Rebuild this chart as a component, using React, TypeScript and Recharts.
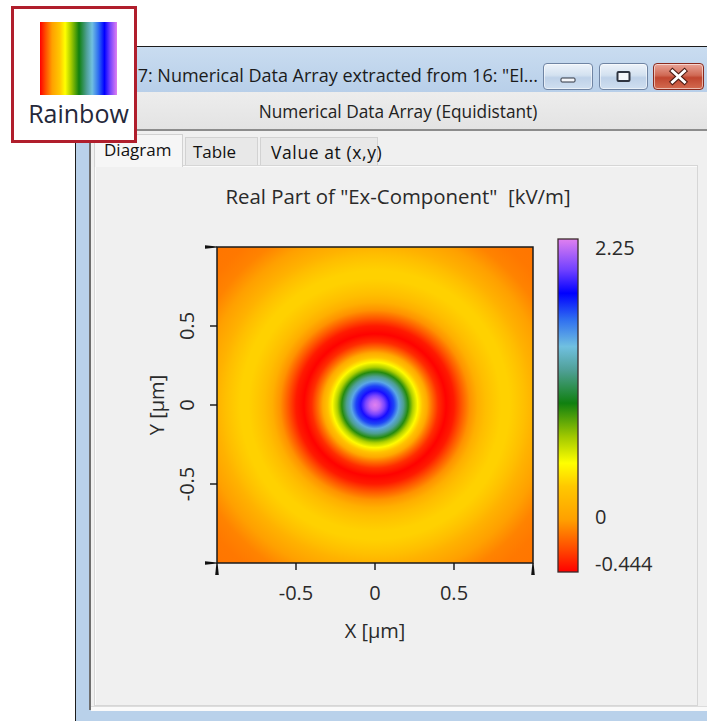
import React from "react";
import { ComposedChart, XAxis, YAxis, ReferenceArea, Bar } from "recharts";

// Re(Ex) in kV/m sampled along the radius (µm) from the beam axis
const RADIUS = [0, 0.03, 0.06, 0.09, 0.12, 0.15, 0.18, 0.21, 0.24, 0.27, 0.3, 0.33, 0.36, 0.4, 0.45, 0.5, 0.55, 0.6, 0.65, 0.7, 0.75, 0.8, 0.85, 0.9, 0.95, 1.0, 1.1, 1.2, 1.3, 1.42];
const FIELD = [2.25, 2.18, 2.02, 1.85, 1.68, 1.45, 1.18, 0.88, 0.62, 0.42, 0.22, 0.04, -0.15, -0.33, -0.44, -0.38, -0.22, -0.06, 0.08, 0.18, 0.25, 0.28, 0.28, 0.25, 0.18, 0.1, -0.02, -0.1, -0.13, -0.14];
const BEAM_CENTER = [0, 0];

const X_DOMAIN: [number, number] = [-1, 1];
const Y_DOMAIN: [number, number] = [-1, 1];
const AXIS_TICKS = [-1, -0.5, 0, 0.5, 1];

// colour scale
const FIELD_MIN = -0.444;
const FIELD_MAX = 2.25;
const COLORBAR_TICKS = [2.25, 0, -0.444];
const RAINBOW_POS = [0, 0.067, 0.157, 0.257, 0.327, 0.407, 0.507, 0.607, 0.677, 0.757, 0.837, 0.907, 1];
const RAINBOW_COLORS = ["#ff0000", "#ff4800", "#ffa000", "#ffc800", "#ffff00", "#a0c800", "#108010", "#50a098", "#70c0e0", "#3070f0", "#0000ff", "#7040ff", "#e080f0"];

const SCALE_BAR = [{ name: "Re(Ex)", span: [FIELD_MIN, FIELD_MAX] }];

const UI_FONT = '"Open Sans", "Noto Sans", sans-serif';
const TEXT = "#2a2a2a";
const AXIS_FONT = 20;

function hexRgb(h: string) {
  const n = parseInt(h.slice(1), 16);
  return [(n >> 16) & 255, (n >> 8) & 255, n & 255];
}

function rainbow(v: number) {
  const t = Math.min(1, Math.max(0, (v - FIELD_MIN) / (FIELD_MAX - FIELD_MIN)));
  let i = 0;
  while (i < RAINBOW_POS.length - 2 && t > RAINBOW_POS[i + 1]) i++;
  const f = (t - RAINBOW_POS[i]) / (RAINBOW_POS[i + 1] - RAINBOW_POS[i]);
  const a = hexRgb(RAINBOW_COLORS[i]);
  const b = hexRgb(RAINBOW_COLORS[i + 1]);
  const c = a.map((ch, k) => Math.round(ch + (b[k] - ch) * f));
  return `rgb(${c[0]},${c[1]},${c[2]})`;
}

function FieldMap(props: any) {
  const { x, y, width, height } = props;
  const pxX = width / (X_DOMAIN[1] - X_DOMAIN[0]);
  const pxY = height / (Y_DOMAIN[1] - Y_DOMAIN[0]);
  const cx = x + (BEAM_CENTER[0] - X_DOMAIN[0]) * pxX;
  const cy = y + (Y_DOMAIN[1] - BEAM_CENTER[1]) * pxY;
  const rMax = RADIUS[RADIUS.length - 1];
  return (
    <g>
      <defs>
        <radialGradient id="exField" gradientUnits="userSpaceOnUse" cx={cx} cy={cy} r={rMax * pxX}>
          {RADIUS.map((r, i) => (
            <stop key={i} offset={r / rMax} stopColor={rainbow(FIELD[i])} />
          ))}
        </radialGradient>
      </defs>
      <rect x={x} y={y} width={width} height={height} fill="url(#exField)" stroke="#1a1a1a" strokeWidth={1.5} />
    </g>
  );
}

const fmt = (v: number) => String(v);

function XTick(props: any) {
  const { x, y, payload } = props;
  const edge = Math.abs(payload.value) === 1;
  return (
    <g>
      {edge ? (
        <polygon points={`${x - 0.6},${y} ${x + 0.6},${y} ${x + 1.8},${y + 12} ${x - 1.8},${y + 12}`} fill="#111" />
      ) : (
        <line x1={x} x2={x} y1={y} y2={y + 7} stroke="#111" strokeWidth={1.4} />
      )}
      {!edge && (
        <text x={x} y={y + 30} dy="0.36em" textAnchor="middle" fontSize={AXIS_FONT} fill={TEXT} fontFamily={UI_FONT}>
          {fmt(payload.value)}
        </text>
      )}
    </g>
  );
}

function YTick(props: any) {
  const { x, y, payload } = props;
  const edge = Math.abs(payload.value) === 1;
  const tx = x - 30;
  return (
    <g>
      {edge ? (
        <polygon points={`${x},${y - 0.6} ${x},${y + 0.6} ${x - 12},${y + 1.8} ${x - 12},${y - 1.8}`} fill="#111" />
      ) : (
        <line x1={x} x2={x - 7} y1={y} y2={y} stroke="#111" strokeWidth={1.4} />
      )}
      {!edge && (
        <text x={tx} y={y} dy="0.36em" textAnchor="middle" fontSize={AXIS_FONT} fill={TEXT} fontFamily={UI_FONT} transform={`rotate(-90, ${tx}, ${y})`}>
          {fmt(payload.value)}
        </text>
      )}
    </g>
  );
}

function ScaleTick(props: any) {
  const { x, y, payload } = props;
  const shift = payload.value === FIELD_MAX ? 9 : payload.value === FIELD_MIN ? -8 : 0;
  return (
    <text x={x + 17} y={y + shift} dy="0.36em" textAnchor="start" fontSize={AXIS_FONT} fill={TEXT} fontFamily={UI_FONT}>
      {fmt(payload.value)}
    </text>
  );
}

function ScaleBar(props: any) {
  const { x, y, width, height } = props;
  const top = Math.min(y, y + height);
  return (
    <g>
      <defs>
        <linearGradient id="rainbowScale" x1="0" y1="1" x2="0" y2="0">
          {RAINBOW_POS.map((p, i) => (
            <stop key={i} offset={p} stopColor={RAINBOW_COLORS[i]} />
          ))}
        </linearGradient>
      </defs>
      <rect x={x} y={top} width={width} height={Math.abs(height)} fill="url(#rainbowScale)" stroke="#3a2a2a" strokeWidth={1.3} />
    </g>
  );
}

function CaptionButton({ left, width, kind }: { left: number; width: number; kind: string }) {
  const close = kind === "close";
  const mid = (width - 2) / 2;
  return (
    <div
      style={{
        position: "absolute", left, top: 63, width, height: 27, boxSizing: "border-box",
        borderRadius: 4, border: close ? "1px solid #8a2a1e" : "1px solid #6f84a3",
        background: close
          ? "linear-gradient(#e9a396, #d06a55 45%, #c04630 55%, #d36b50)"
          : "linear-gradient(#edf3fa, #d3e1f0 45%, #bed1e8 55%, #cfdff0)",
        boxShadow: "inset 0 0 0 1px rgba(255,255,255,0.55)",
      }}
    >
      <svg width={width - 2} height={25} style={{ position: "absolute", left: 0, top: 0 }}>
        {kind === "min" && <rect x={mid - 7} y={14} width={14} height={4} rx={1} fill="#f4f6fa" stroke="#2e3440" strokeWidth={1} />}
        {kind === "max" && <rect x={mid - 6} y={8} width={12} height={9} rx={1} fill="#f4f6fa" stroke="#2e3440" strokeWidth={2} />}
        {close && (
          <g stroke="#4a1a12" strokeWidth={5} strokeLinecap="square">
            <line x1={mid - 6} y1={7} x2={mid + 6} y2={18} />
            <line x1={mid + 6} y1={7} x2={mid - 6} y2={18} />
          </g>
        )}
        {close && (
          <g stroke="#ffffff" strokeWidth={3} strokeLinecap="square">
            <line x1={mid - 6} y1={7} x2={mid + 6} y2={18} />
            <line x1={mid + 6} y1={7} x2={mid - 6} y2={18} />
          </g>
        )}
      </svg>
    </div>
  );
}

const abs = (s: React.CSSProperties): React.CSSProperties => ({ position: "absolute", ...s });

export default function App() {
  const rainbowCss = `linear-gradient(to right, ${RAINBOW_COLORS.map((c, i) => `${c} ${RAINBOW_POS[i] * 100}%`).join(", ")})`;
  return (
    <div style={{ position: "fixed", left: 0, top: 0, width: 707, height: 721, background: "#ffffff", overflow: "hidden", fontFamily: UI_FONT, color: "#1e1e1e" }}>
      {/* window frame and caption */}
      <div style={abs({ left: 75, top: 46, width: 700, height: 700, background: "#b9d1ea", borderLeft: "1px solid #1c1c1c", borderTop: "1px solid #1c1c1c" })} />
      <div style={abs({ left: 76, top: 47, width: 640, height: 45, background: "linear-gradient(#c9dcf0, #b8cfe9)" })} />
      <div style={abs({ left: 76, top: 62, width: 462, lineHeight: "26px", fontSize: 18, textAlign: "right", whiteSpace: "nowrap", overflow: "hidden", color: "#1b1b1b" })}>
        17: Numerical Data Array extracted from 16: "El...
      </div>
      <CaptionButton left={543} width={50} kind="min" />
      <CaptionButton left={599} width={49} kind="max" />
      <CaptionButton left={653} width={51} kind="close" />

      {/* header band */}
      <div style={abs({ left: 90, top: 92, width: 617, height: 37, background: "linear-gradient(#ededed, #e3e3e3)", borderBottom: "2px solid #8c8c8c" })} />
      <div style={abs({ left: 90, top: 99, width: 616, textAlign: "center", fontSize: 17.3, lineHeight: "26px", color: "#222" })}>
        Numerical Data Array (Equidistant)
      </div>

      {/* panel */}
      <div style={abs({ left: 89, top: 131, width: 2, height: 579, background: "#6e6e6e" })} />
      <div style={abs({ left: 91, top: 131, width: 616, height: 579, background: "#f0f0f0" })} />
      <div style={abs({ left: 94, top: 165, width: 604, height: 541, boxSizing: "border-box", border: "1px solid #d6d6d6", boxShadow: "inset 1px 1px 0 #fbfbfb", background: "#f0f0f0" })} />

      {/* tabs */}
      <div style={abs({ left: 185, top: 137, width: 73, height: 28, boxSizing: "border-box", background: "#e8e8e8", border: "1px solid #d2d2d2", borderBottom: "none" })} />
      <div style={abs({ left: 260, top: 137, width: 118, height: 28, boxSizing: "border-box", background: "#e8e8e8", border: "1px solid #d2d2d2", borderBottom: "none" })} />
      <div style={abs({ left: 94, top: 134, width: 89, height: 33, boxSizing: "border-box", background: "#f6f6f6", border: "1px solid #d2d2d2", borderBottom: "none" })} />
      <div style={abs({ left: 104, top: 138, fontSize: 17, lineHeight: "24px", color: "#111" })}>Diagram</div>
      <div style={abs({ left: 193, top: 140, fontSize: 17, lineHeight: "24px", color: "#111" })}>Table</div>
      <div style={abs({ left: 271, top: 140, fontSize: 17.5, lineHeight: "24px", letterSpacing: 0.6, color: "#111" })}>Value at (x,y)</div>

      {/* bottom frame */}
      <div style={abs({ left: 91, top: 706, width: 616, height: 4, background: "#fafafa", borderTop: "1px solid #dcdcdc" })} />

      {/* diagram title */}
      <div style={abs({ left: 92, top: 182, width: 612, textAlign: "center", fontSize: 20.4, lineHeight: "28px", whiteSpace: "pre", color: TEXT })}>
        {'Real Part of "Ex-Component"  [kV/m]'}
      </div>

      {/* field map */}
      <div style={abs({ left: 92, top: 166 })}>
        <ComposedChart width={607} height={540} margin={{ top: 81, right: 166, bottom: 83, left: 60 }}>
          <XAxis
            type="number"
            dataKey="x"
            domain={X_DOMAIN}
            ticks={AXIS_TICKS}
            interval={0}
            allowDataOverflow
            axisLine={false}
            tickLine={false}
            tickSize={0}
            tickMargin={0}
            height={60}
            tick={(p: any) => <XTick {...p} />}
            label={(p: any) => {
              const vb = p.viewBox;
              return (
                <text x={vb.x + vb.width / 2} y={vb.y + 68} dy="0.36em" textAnchor="middle" fontSize={AXIS_FONT} fill={TEXT} fontFamily={UI_FONT}>
                  X [µm]
                </text>
              );
            }}
          />
          <YAxis
            type="number"
            dataKey="y"
            domain={Y_DOMAIN}
            ticks={AXIS_TICKS}
            interval={0}
            allowDataOverflow
            axisLine={false}
            tickLine={false}
            tickSize={0}
            tickMargin={0}
            width={65}
            tick={(p: any) => <YTick {...p} />}
            label={(p: any) => {
              const vb = p.viewBox;
              const lx = vb.x + vb.width - 60;
              const ly = vb.y + vb.height / 2;
              return (
                <text x={lx} y={ly} dy="0.36em" textAnchor="middle" fontSize={AXIS_FONT} fill={TEXT} fontFamily={UI_FONT} transform={`rotate(-90, ${lx}, ${ly})`}>
                  Y [µm]
                </text>
              );
            }}
          />
          <ReferenceArea
            x1={X_DOMAIN[0]}
            x2={X_DOMAIN[1]}
            y1={Y_DOMAIN[0]}
            y2={Y_DOMAIN[1]}
            ifOverflow="visible"
            shape={(p: any) => <FieldMap {...p} />}
          />
        </ComposedChart>
      </div>

      {/* colour scale */}
      <div style={abs({ left: 548, top: 220 })}>
        <ComposedChart width={150} height={370} data={SCALE_BAR} margin={{ top: 19, right: 0, bottom: 18, left: 10 }} barCategoryGap={0}>
          <XAxis dataKey="name" hide />
          <YAxis
            orientation="right"
            type="number"
            domain={[FIELD_MIN, FIELD_MAX]}
            ticks={COLORBAR_TICKS}
            interval={0}
            width={120}
            axisLine={false}
            tickLine={false}
            tickSize={0}
            tickMargin={0}
            tick={(p: any) => <ScaleTick {...p} />}
          />
          <Bar dataKey="span" isAnimationActive={false} shape={(p: any) => <ScaleBar {...p} />} />
        </ComposedChart>
      </div>

      {/* palette icon */}
      <div style={abs({ left: 11, top: 6, width: 126, height: 137, boxSizing: "border-box", border: "3px solid #b01e2c", background: "#ffffff" })} />
      <div style={abs({ left: 40, top: 22, width: 77, height: 73, background: rainbowCss })} />
      <div style={abs({ left: 18.5, top: 95, width: 120, textAlign: "center", fontSize: 25, lineHeight: "36px", color: "#25283a" })}>Rainbow</div>
    </div>
  );
}
